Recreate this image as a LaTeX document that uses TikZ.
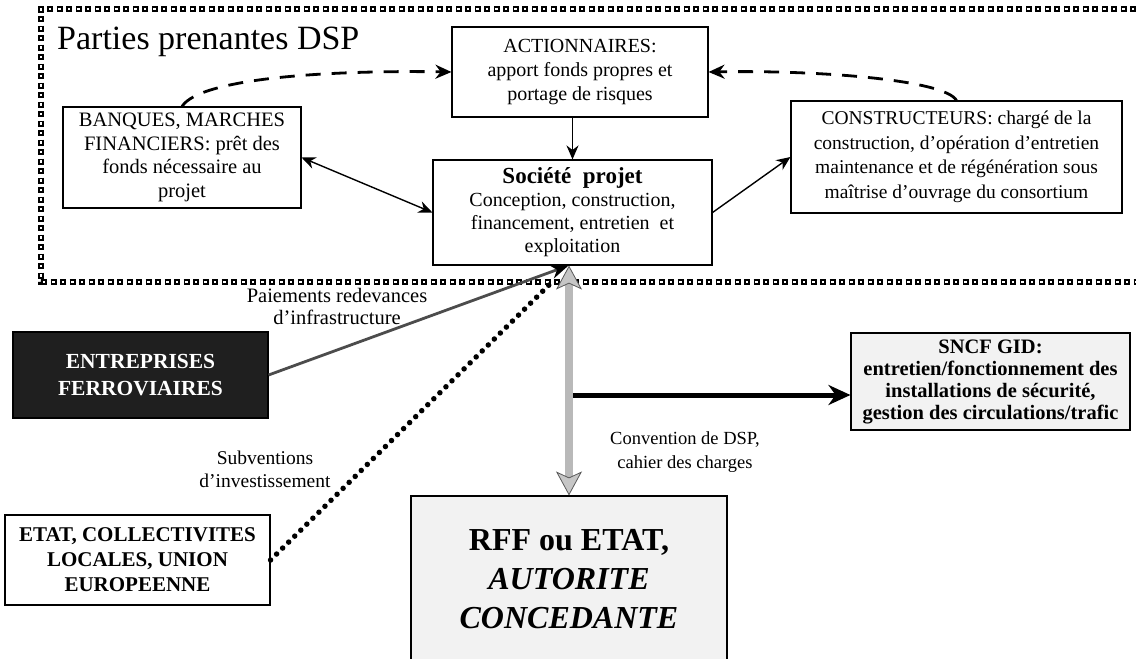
\documentclass[tikz,border=0pt]{standalone}
\usepackage{fontspec}
\setmainfont{Liberation Serif}
\usetikzlibrary{arrows.meta,calc}

\tikzset{
  box/.style={draw, line width=1.1pt, align=center, inner sep=2pt,
    font=\fontsize{20}{24}\selectfont},
  lbl/.style={align=center, font=\fontsize{19}{23}\selectfont},
  frameouter/.style={draw=black, line width=6pt, dash pattern=on 6pt off 3.5pt},
  frameinner/.style={draw=white, line width=2.2pt, dash pattern=on 2.2pt off 7.3pt, dash phase=7.6pt},
  thinarrow/.style={line width=1.4pt, -{Stealth[length=14pt,width=12pt]}},
  dasharrow/.style={line width=2.8pt, dash pattern=on 15pt off 11pt,
    -{Stealth[length=16pt,width=14pt]}},
  payline/.style={line width=2.8pt, draw=black!70, -{Stealth[length=18pt,width=14pt,fill=black,color=black]}},
  dotline/.style={line width=5.5pt, line cap=round, dash pattern=on 0pt off 8.5pt},
  grayarrow/.style={line width=8pt, draw=gray!55,
    {Stealth[length=24pt,width=26pt,inset=6pt,fill=gray!45,color=gray!70!black,line width=0.8pt]}-{Stealth[length=24pt,width=26pt,inset=6pt,fill=gray!45,color=gray!70!black,line width=0.8pt]}},
  boldarrow/.style={line width=5pt, -{Stealth[length=22pt,width=20pt]}},
}

\begin{document}
\begin{tikzpicture}[x=1pt,y=-1pt]
\useasboundingbox (0,0) rectangle (1136,659);

% stakeholder frame
\draw[frameouter] (1136,9) -- (41,9) -- (41,282) -- (1136,282);
\draw[frameinner] (1136,9) -- (41,9) -- (41,282) -- (1136,282);
\node[anchor=base west, font=\fontsize{34}{38}\selectfont, inner sep=0pt] (title) at (57,49) {Parties prenantes DSP};

% boxes inside the frame
\node[box, minimum width=256pt, minimum height=90pt] (act) at (580,72)
  {ACTIONNAIRES:\\apport fonds propres et\\portage de risques};
\node[box, minimum width=279pt, minimum height=105pt, font=\fontsize{20}{23}\selectfont] (soc) at (572.5,212.5)
  {{\bfseries\fontsize{23}{24}\selectfont Société\ \ projet}\\Conception, construction,\\financement, entretien\ \ et\\exploitation};
\node[box, minimum width=238pt, minimum height=101pt, font=\fontsize{20.5}{23.5}\selectfont] (ban) at (182,157.5)
  {BANQUES, MARCHES\\FINANCIERS: prêt des\\fonds nécessaire au\\projet};
\node[box, minimum width=331pt, minimum height=112pt, font=\fontsize{19.5}{24.5}\selectfont] (con) at (956.5,157)
  {CONSTRUCTEURS: chargé de la\\construction, d'opération d'entretien\\maintenance et de régénération sous\\maîtrise d'ouvrage du consortium};

% boxes outside the frame
\node[box, fill=black!88, text=white, minimum width=255pt, minimum height=86pt,
  font=\bfseries\fontsize{21.5}{27}\selectfont] (ent) at (140.5,375)
  {ENTREPRISES\\FERROVIAIRES};
\node[box, minimum width=265pt, minimum height=90pt, font=\bfseries\fontsize{21}{25}\selectfont] (etat) at (137.5,560)
  {ETAT, COLLECTIVITES\\LOCALES, UNION\\EUROPEENNE};
\node[box, fill=gray!10, minimum width=316pt, minimum height=166pt,
  font=\bfseries\fontsize{32}{39}\selectfont] (rff) at (569,579)
  {RFF ou ETAT,\\\textit{AUTORITE}\\\textit{CONCEDANTE}};
\node[box, fill=gray!10, minimum width=279pt, minimum height=97pt,
  font=\bfseries\fontsize{20.5}{22}\selectfont] (sncf) at (990.5,381.5)
  {SNCF GID:\\entretien/fonctionnement des\\installations de sécurité,\\gestion des circulations/trafic};

% flows between stakeholders
\draw[dasharrow] (ban.north) .. controls (200,78) and (330,70) .. (act.west);
\draw[dasharrow] (con.north) .. controls (945,80) and (820,70) .. (act.east);
\draw[thinarrow] (act.south -| soc.north) -- (soc.north);
\draw[line width=1.4pt, {Stealth[length=14pt,width=12pt]}-{Stealth[length=14pt,width=12pt]}] (ban.east) -- (soc.west);
\draw[thinarrow] (soc.east) -- (con.west);

% flows towards the project company and the authority
\draw[payline] (ent.east) -- ([xshift=-4pt]soc.south);
\draw[dotline] (etat.east) -- ([xshift=-18pt,yshift=-14pt]soc.south);
\draw[grayarrow] (rff.north |- soc.south) -- (rff.north);
\coordinate (junc) at (573,395);
\draw[boldarrow] (junc) -- (junc -| sncf.west);

% flow labels
\node[lbl, font=\fontsize{20.5}{22}\selectfont] (lpay) at (337,306) {Paiements redevances\\d'infrastructure};
\node[lbl, font=\fontsize{19.5}{23}\selectfont] (lsub) at (265,469) {Subventions\\d'investissement};
\node[lbl, font=\fontsize{18.5}{24}\selectfont] (lconv) at (685,452) {Convention de DSP,\\cahier des charges};
\end{tikzpicture}
\end{document}
